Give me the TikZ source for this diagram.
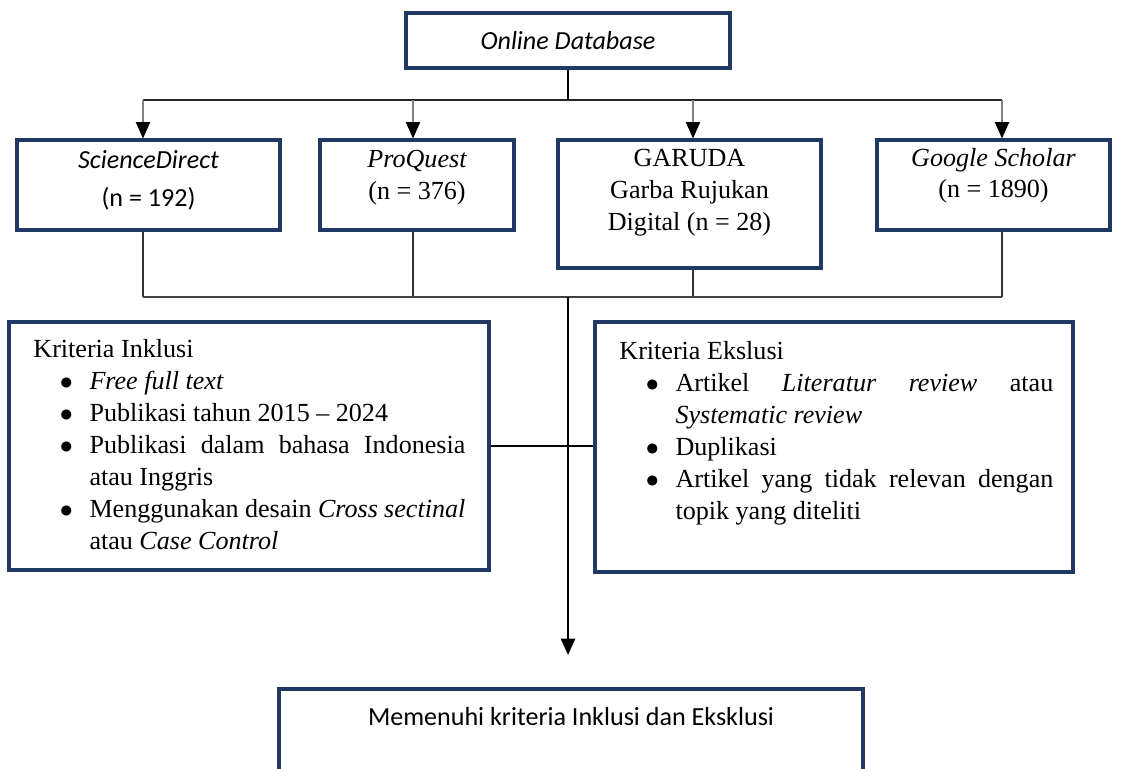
\documentclass[tikz,border=0pt]{standalone}
\usepackage{fontspec}
\setmainfont{Liberation Serif}
\newfontfamily\calibri{Carlito}
\usepackage{enumitem}
\setlist[itemize]{label=$\bullet$,leftmargin=25.8pt,labelsep=7.6pt,topsep=0pt,partopsep=0pt,itemsep=0pt,parsep=0pt}
\setlength\parindent{0pt}
\usetikzlibrary{arrows.meta,fit,calc}
\definecolor{boxblue}{HTML}{1F3864}

\begin{document}
\begin{tikzpicture}[x=0.46pt,y=-0.46pt,
    box/.style={draw=boxblue,line width=1.4pt,inner sep=0pt},
    times/.style={font=\fontsize{12pt}{14.7pt}\selectfont,inner sep=0pt},
    cal/.style={font=\calibri\fontsize{12pt}{17.5pt}\selectfont,inner sep=0pt},
    line/.style={line width=0.7pt},
    arr/.style={line,-{Triangle[length=7.5pt,width=6.5pt,color=black]}}]
    \useasboundingbox (0,0) rectangle (1122,769);
    \clip (0,0) rectangle (1122,769);

    % databases
    \node[box,fit={(406,13) (730,68)}] (od) {};
    \node[cal] (odt) at (od.center) {\itshape Online Database};
    \node[box,fit={(17,140) (280,230)}] (sd) {};
    \node[box,fit={(320,140) (514,230)}] (pq) {};
    \node[box,fit={(558,140) (821,268)}] (gr) {};
    \node[box,fit={(877,140) (1110,230)}] (gs) {};

    \node[cal,anchor=north,align=center] (sdt) at ($(sd.north)+(0,12)$) {\itshape ScienceDirect\\(n = 192)};
    \node[times,anchor=north,align=center] (pqt) at ($(pq.north)+(0,11)$) {\itshape ProQuest\\(n = 376)};
    \node[times,anchor=north,align=center] (grt) at ($(gr.north)+(0,10)$) {GARUDA\\Garba Rujukan\\Digital (n = 28)};
    \node[times,anchor=north,align=center] (gst) at ($(gs.north)+(0,9)$) {\textit{Google Scholar}\\(n = 1890)};

    % criteria
    \node[box,fit={(9,322) (489,570)}] (inc) {};
    \node[box,fit={(595,322) (1073,572)}] (exc) {};

    \node[times,anchor=north west,text width=198.7pt,align=justify] (inct) at (33,339) {Kriteria Inklusi
    \begin{itemize}
    \item \textit{Free full text}
    \item Publikasi tahun 2015 -- 2024
    \item Publikasi dalam bahasa Indonesia\linebreak atau Inggris
    \item Menggunakan desain \textit{Cross sectinal}\linebreak atau \textit{Case Control}
    \end{itemize}};
    \node[times,anchor=north west,text width=199.6pt,align=justify] (exct) at (619,341) {Kriteria Ekslusi
    \begin{itemize}
    \item Artikel \textit{Literatur review} atau\linebreak \textit{Systematic review}
    \item Duplikasi
    \item Artikel yang tidak relevan dengan\linebreak topik yang diteliti
    \end{itemize}};

    % result
    \node[box,fit={(279,689) (863,800)}] (res) {};
    \node[cal,anchor=base] (rest) at (571,726) {Memenuhi kriteria Inklusi dan Eksklusi};

    \coordinate (t1) at (143,100);
    \coordinate (t2) at (413,100);
    \coordinate (t3) at (693,100);
    \coordinate (t4) at (1002,100);
    \coordinate (b0) at (568,297);
    \coordinate (tip) at (568,655);

    \draw[line] (od.south) -- (od.south |- t1);
    \draw[line,black!85] (t1) -- (t4);
    \foreach \t/\b in {t1/sd,t2/pq,t3/gr,t4/gs} \draw[arr,gray] (\t) -- (\t |- \b.north);
    \foreach \t/\b in {t1/sd,t2/pq,t3/gr,t4/gs} \draw[line,black!80] (\t |- \b.south) -- (\t |- b0);
    \draw[line,black!75] (t1 |- b0) -- (t4 |- b0);

    \draw[arr,line width=1pt] (b0) -- (tip);
    \draw[line width=1pt] (inc.east) -- (inc.east -| exc.west);
\end{tikzpicture}
\end{document}
